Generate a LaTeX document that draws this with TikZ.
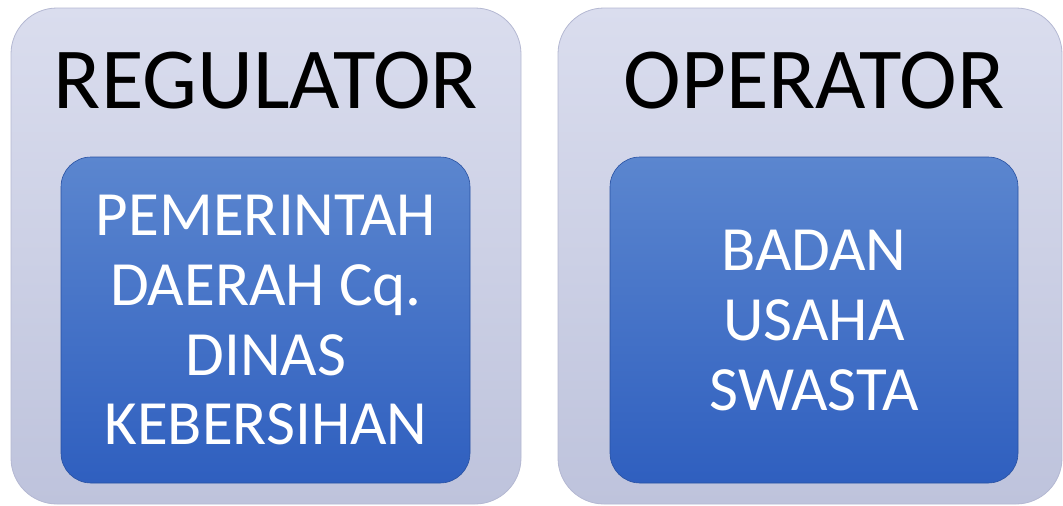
\documentclass[tikz,border=0pt]{standalone}
\usepackage{fontspec}
\setmainfont{Carlito}
\definecolor{outtop}{HTML}{DADDEE}
\definecolor{outbot}{HTML}{BEC3DC}
\definecolor{intop}{HTML}{5B86CF}
\definecolor{inbot}{HTML}{2F5FBF}
\definecolor{outedge}{HTML}{B4B8D2}
\tikzset{
  outerbox/.style={rounded corners=46pt, top color=outtop, bottom color=outbot, draw=outedge, line width=0.8pt},
  innerbox/.style={rounded corners=30pt, top color=intop, bottom color=inbot, draw=inbot!85!black, line width=0.6pt},
  headtext/.style={font=\fontsize{87}{87}\selectfont, text=black, anchor=base},
  bodytext/.style={font=\fontsize{63}{70}\selectfont, text=white, align=center}
}
\begin{document}
\begin{tikzpicture}[x=1pt,y=-1pt]
\useasboundingbox (0,0) rectangle (1063,506);
% left
\draw[outerbox] (11,8) rectangle (521,504);
\node[headtext] (reg) at (266,108) {REGULATOR};
\draw[innerbox] (61,157) rectangle (470,483);
\node[bodytext] (pem) at (266,320) {PEMERINTAH\\DAERAH Cq.\\DINAS\\KEBERSIHAN};
% right
\draw[outerbox] (558,8) rectangle (1062,504);
\node[headtext] (op) at (814,108) {OPERATOR};
\draw[innerbox] (610,157) rectangle (1018,483);
\node[bodytext] (bad) at (814,320) {BADAN\\USAHA\\SWASTA};
\end{tikzpicture}
\end{document}
